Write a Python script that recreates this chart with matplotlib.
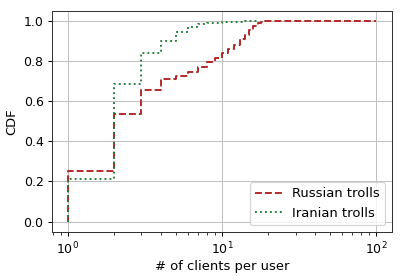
import matplotlib
matplotlib.use("Agg")
import matplotlib.pyplot as plt

# Russian trolls: clients per user -> CDF
ru_x = [1, 1, 2, 3, 4, 5, 6, 7, 8, 9, 10, 11, 12, 13, 14, 15, 16, 17, 18, 19, 20, 100]
ru_y = [0.0, 0.25, 0.534, 0.654, 0.71, 0.727, 0.745, 0.77, 0.795, 0.817, 0.837, 0.858,
        0.878, 0.907, 0.928, 0.953, 0.973, 0.987, 0.995, 0.998, 0.999, 1.0]

# Iranian trolls
ir_x = [1, 1, 2, 3, 4, 5, 6, 7, 8, 9, 10, 11, 12, 13, 14, 15, 16, 17]
ir_y = [0.0, 0.21, 0.686, 0.837, 0.898, 0.943, 0.97, 0.983, 0.988, 0.99, 0.992, 0.994,
        0.995, 0.996, 0.997, 0.997, 0.998, 1.0]

DPI = 90
fig = plt.figure(figsize=(403 / DPI, 276 / DPI), dpi=DPI)
ax = fig.add_axes([52.3 / 403, 1 - 231.7 / 276, (391.7 - 52.3) / 403, (231.7 - 10.7) / 276])

ax.step(ru_x, ru_y, where="post", color="#b22222", linestyle="--", linewidth=1.5,
        label="Russian trolls")
ax.step(ir_x, ir_y, where="post", color="#1e7b34", linestyle=":", linewidth=1.5,
        label="Iranian trolls")

ax.set_xscale("log")
ax.set_xlim(10 ** -0.1, 10 ** 2.1)
ax.set_ylim(-0.05, 1.05)
ax.set_yticks([0.0, 0.2, 0.4, 0.6, 0.8, 1.0])
ax.grid(True, which="major", color="#c0c0c0", linewidth=0.8)
for s in ax.spines.values():
    s.set_color("#333333")
ax.set_xlabel("# of clients per user", fontsize=10.5, labelpad=2)
ax.set_ylabel("CDF", fontsize=10.5)
ax.legend(loc="lower right", fontsize=10.5)

fig.savefig("out.png", dpi=DPI)
